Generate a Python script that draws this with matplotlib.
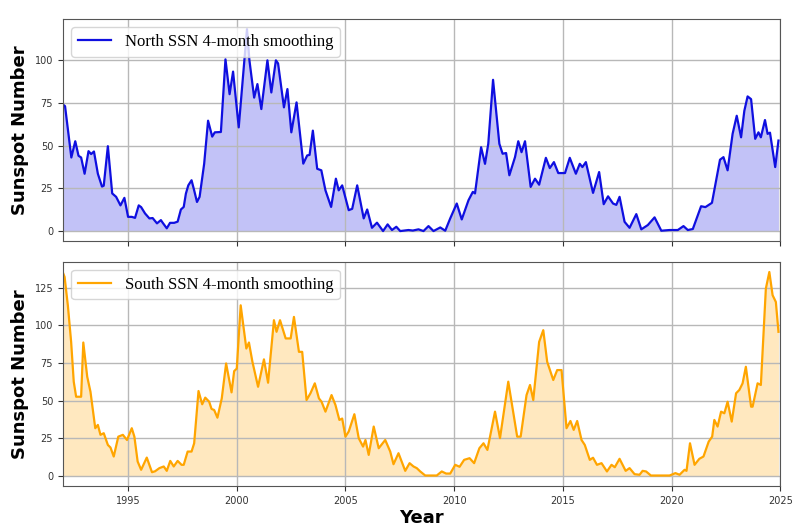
import numpy as np
import matplotlib
matplotlib.use("Agg")
import matplotlib.pyplot as plt
from matplotlib.ticker import MultipleLocator

# North hemisphere sunspot number, 4-month smoothing
north_year = [1992.0, 1992.1, 1992.39, 1992.57, 1992.72, 1992.84, 1993.0, 1993.18, 1993.3, 1993.43,
              1993.61, 1993.8, 1993.88, 1994.07, 1994.27, 1994.45, 1994.65, 1994.83, 1995.0, 1995.17,
              1995.32, 1995.49, 1995.6, 1995.78, 1995.98, 1996.13, 1996.33, 1996.51, 1996.59, 1996.78,
              1996.93, 1997.12, 1997.28, 1997.43, 1997.56, 1997.66, 1997.77, 1997.92, 1998.04, 1998.17,
              1998.29, 1998.5, 1998.68, 1998.87, 1998.99, 1999.27, 1999.48, 1999.67, 1999.83, 2000.09,
              2000.35, 2000.47, 2000.58, 2000.8, 2000.95, 2001.13, 2001.41, 2001.59, 2001.8, 2001.9,
              2002.17, 2002.33, 2002.51, 2002.75, 2003.06, 2003.24, 2003.35, 2003.5, 2003.7, 2003.89,
              2004.08, 2004.34, 2004.56, 2004.69, 2004.85, 2005.15, 2005.31, 2005.54, 2005.84, 2006.0,
              2006.22, 2006.45, 2006.73, 2006.94, 2007.14, 2007.34, 2007.52, 2007.9, 2008.1, 2008.36,
              2008.59, 2008.82, 2009.05, 2009.36, 2009.59, 2009.82, 2010.12, 2010.35, 2010.66, 2010.86,
              2010.96, 2011.24, 2011.42, 2011.57, 2011.79, 2012.08, 2012.23, 2012.39, 2012.54, 2012.8,
              2012.95, 2013.1, 2013.26, 2013.52, 2013.72, 2013.91, 2014.22, 2014.4, 2014.59, 2014.79,
              2015.1, 2015.32, 2015.6, 2015.78, 2015.9, 2016.06, 2016.39, 2016.67, 2016.88, 2017.08,
              2017.31, 2017.46, 2017.61, 2017.84, 2018.07, 2018.38, 2018.61, 2018.91, 2019.22, 2019.53,
              2019.91, 2020.29, 2020.55, 2020.75, 2020.98, 2021.36, 2021.56, 2021.86, 2022.23, 2022.39,
              2022.58, 2022.81, 2023.0, 2023.2, 2023.35, 2023.5, 2023.66, 2023.85, 2024.0, 2024.11,
              2024.3, 2024.42, 2024.53, 2024.77, 2024.92]
north_ssn = [74, 73, 43, 52.5, 44, 43, 33.5, 46.7, 45, 46.5,
             33.5, 26, 26.5, 49.6, 22, 20, 15, 19.4, 8.3, 8.3,
             7.7, 15, 14, 10.3, 7.4, 7.6, 4.5, 6.4, 4.9, 1.6,
             4.8, 4.8, 5.5, 12.6, 14.1, 21.9, 26.7, 29.7, 23.8, 17,
             20, 39.3, 64.5, 55.2, 57.7, 57.9, 100.4, 80, 93.2, 60.6,
             100, 118, 100, 78, 85.9, 71.3, 99.8, 81, 99.8, 98,
             72.3, 83, 57.7, 75.2, 39.4, 44.2, 44.5, 58.7, 36.4, 35.5,
             23.8, 14.1, 30.6, 23.8, 26.7, 12.2, 13, 26.7, 7.4, 12.6,
             1.9, 4.9, 0, 3.9, 0.6, 2.5, 0, 0.6, 0.3, 1,
             0, 2.9, 0, 2.1, 0.2, 7.4, 16.1, 6.8, 18, 22.9,
             22, 49, 39.3, 51, 88.4, 51, 45.2, 45.6, 32.6, 43.2,
             52.5, 46.1, 52.5, 25.8, 30.6, 27.1, 42.8, 36.8, 40.3, 33.9,
             33.9, 42.8, 33.5, 39.3, 37.4, 40.3, 22.3, 34.5, 15.7, 20.3,
             16.1, 15.3, 20, 5.4, 1.9, 9.9, 1, 3.5, 8, 0.2,
             0.6, 0.6, 2.9, 0.6, 1.2, 14.5, 14, 16.5, 41.7, 43.2,
             35.5, 56.8, 67.4, 54.8, 70.3, 78.7, 77.1, 53.9, 57.7, 54.8,
             64.9, 56.8, 57.5, 37.4, 52.9]

# South hemisphere sunspot number, 4-month smoothing
south_year = [1992.0, 1992.08, 1992.23, 1992.38, 1992.5, 1992.61, 1992.84, 1992.94, 1993.12, 1993.27,
              1993.49, 1993.61, 1993.73, 1993.88, 1994.07, 1994.19, 1994.34, 1994.55, 1994.76, 1994.95,
              1995.17, 1995.29, 1995.44, 1995.6, 1995.86, 1996.1, 1996.24, 1996.44, 1996.64, 1996.78,
              1996.94, 1997.1, 1997.28, 1997.46, 1997.56, 1997.74, 1997.92, 1998.04, 1998.24, 1998.41,
              1998.55, 1998.73, 1998.84, 1998.96, 1999.11, 1999.31, 1999.51, 1999.76, 1999.88, 2000.0,
              2000.18, 2000.44, 2000.56, 2000.72, 2000.98, 2001.25, 2001.44, 2001.71, 2001.83, 2001.99,
              2002.25, 2002.48, 2002.63, 2002.86, 2003.01, 2003.21, 2003.39, 2003.59, 2003.78, 2003.9,
              2004.08, 2004.36, 2004.54, 2004.72, 2004.85, 2005.0, 2005.15, 2005.41, 2005.61, 2005.81,
              2005.92, 2006.07, 2006.3, 2006.53, 2006.83, 2007.06, 2007.21, 2007.44, 2007.75, 2007.95,
              2008.13, 2008.28, 2008.44, 2008.67, 2009.2, 2009.43, 2009.63, 2009.82, 2010.05, 2010.25,
              2010.46, 2010.71, 2010.92, 2011.16, 2011.35, 2011.53, 2011.88, 2012.11, 2012.49, 2012.9,
              2013.06, 2013.33, 2013.49, 2013.64, 2013.91, 2014.1, 2014.28, 2014.56, 2014.74, 2014.94,
              2015.17, 2015.35, 2015.5, 2015.66, 2015.86, 2016.01, 2016.24, 2016.39, 2016.57, 2016.78,
              2017.03, 2017.24, 2017.39, 2017.61, 2017.89, 2018.07, 2018.3, 2018.53, 2018.67, 2018.83,
              2019.05, 2019.91, 2020.18, 2020.37, 2020.6, 2020.69, 2020.85, 2021.06, 2021.28, 2021.47,
              2021.71, 2021.87, 2021.97, 2022.12, 2022.28, 2022.43, 2022.58, 2022.77, 2022.97, 2023.12,
              2023.27, 2023.42, 2023.66, 2023.73, 2023.96, 2024.11, 2024.34, 2024.5, 2024.65, 2024.8,
              2024.92]
south_ssn = [135, 132, 113, 89, 62.5, 52.5, 52.5, 88.5, 65.8, 55.8,
             31.6, 33.8, 27.2, 28.3, 20.5, 18.8, 12.8, 26, 27.2, 23.8,
             31.6, 26, 9.5, 4, 12.1, 2.4, 3, 5.1, 6.2, 3.3,
             9.9, 6.2, 9.9, 7.3, 7.3, 16.1, 16.1, 21.6, 56.3, 47.5,
             51.9, 49.2, 44.4, 43.7, 38.6, 51.4, 74.6, 55.4, 69.5, 71.2,
             113.2, 84.5, 88.5, 75.7, 59.1, 77.3, 61.8, 103.3, 95.6, 103.3,
             91.2, 91.2, 105.5, 82.3, 82.3, 50.3, 54.8, 61.4, 51.4, 49.2,
             42.6, 53.6, 47, 37.1, 38, 26, 29.4, 40.9, 25, 19.4,
             23.8, 13.9, 32.7, 18.3, 23.8, 16.1, 7.7, 15, 3.3, 8.4,
             6.2, 5.1, 2.9, 0.2, 0.2, 2.9, 1.5, 1.5, 7.3, 6,
             10.6, 11.7, 8.4, 18.3, 21.6, 17.2, 42.6, 25, 62.5, 26,
             26, 53.6, 60.3, 50.3, 88.9, 96.7, 75.7, 63.6, 70.2, 70.2,
             31.6, 36.4, 30.5, 36.4, 23.8, 20.5, 10.6, 12, 7.3, 8.4,
             2.9, 7.3, 5.7, 11.3, 3.3, 5.1, 1.1, 0.7, 3.3, 2.9,
             0.2, 0.2, 1.8, 0.7, 4, 3.3, 21.6, 7.3, 11.3, 12.8,
             22.7, 26, 37.1, 32.7, 42.6, 41.5, 49.2, 36, 54.8, 57,
             61.4, 72.4, 45.9, 45.9, 61.4, 60.3, 124.3, 135.3, 119.9, 115.4,
             95.6]

year_ticks = [1995, 2000, 2005, 2010, 2015, 2020, 2025]

fig = plt.figure(figsize=(8.06, 5.30), dpi=100)
ax1 = fig.add_axes([0.078, 0.545, 0.890, 0.419])
ax2 = fig.add_axes([0.078, 0.083, 0.890, 0.423], sharex=ax1)

panels = [(ax1, north_year, north_ssn, '#0f0fe0', 'North SSN 4-month smoothing'),
          (ax2, south_year, south_ssn, 'orange', 'South SSN 4-month smoothing')]

for ax, yr, ssn, col, lab in panels:
    ax.plot(yr, ssn, color=col, lw=1.6, label=lab)
    ax.fill_between(yr, 0, ssn, color=col, alpha=0.25, lw=0)
    ax.yaxis.set_major_locator(MultipleLocator(25))
    ax.grid(True, color='#b8b8b8', lw=1.0)
    ax.set_ylabel('Sunspot Number', fontsize=13, fontweight='bold')
    ax.tick_params(labelsize=7, colors='#333333', length=3.5)
    for sp in ax.spines.values():
        sp.set_color('#555555')
    ax.legend(loc='upper left', prop={'family': 'Liberation Serif', 'size': 12})

ax1.set_xlim(1992, 2025)
ax1.set_xticks(year_ticks)
plt.setp(ax1.get_xticklabels(), visible=False)
ax2.set_xlabel('Year', fontsize=13, fontweight='bold', labelpad=2)

plt.savefig('out.png', dpi=100)
